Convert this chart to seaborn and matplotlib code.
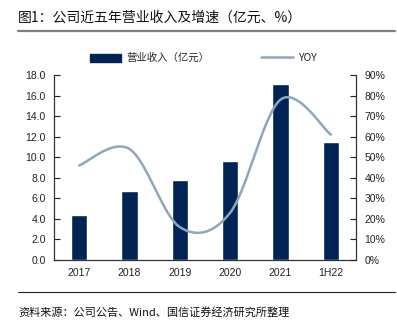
import numpy as np
import pandas as pd
import matplotlib
matplotlib.use("Agg")
import matplotlib.pyplot as plt
import seaborn as sns
from matplotlib.lines import Line2D
from matplotlib.patches import Patch

sns.set_style("white")
plt.rcParams["font.family"] = ["Liberation Sans", "Noto Sans CJK SC", "DejaVu Sans"]

# Data
years = ["2017", "2018", "2019", "2020", "2021", "1H22"]
revenue = [4.4, 6.7, 7.8, 9.6, 17.1, 11.5]          # 营业收入（亿元）
yoy = [46, 54, 16, 23, 78, 61]                       # 同比增速（%）
left_ticks = [0, 2, 4, 6, 8, 10, 12, 14, 16, 18]
right_ticks = [0, 10, 20, 30, 40, 50, 60, 70, 80, 90]

BAR_COLOR = "#022454"
LINE_COLOR = "#8ea6be"
CJK = ["Noto Sans CJK SC", "DejaVu Sans"]

fig = plt.figure(figsize=(3.97, 3.29), dpi=100)
ax = fig.add_axes([54 / 397, 1 - 260 / 329, (356 - 54) / 397, (260 - 75) / 329])

df = pd.DataFrame({"year": years, "revenue": revenue})
sns.barplot(data=df, x="year", y="revenue", color=BAR_COLOR, width=0.32,
            saturation=1, ax=ax)
ax.set_xlim(-0.5, len(years) - 0.5)
ax.set_ylim(0, 18)
ax.set_yticks(left_ticks)
ax.set_yticklabels([f"{t:.1f}" for t in left_ticks])
ax.set_xlabel("")
ax.set_ylabel("")
ax.set_xticks(np.arange(len(years)))
ax.set_xticklabels(years)
ax.set_xticks(np.arange(len(years) - 1) + 0.5, minor=True)
ax.tick_params(axis="x", which="major", length=0, pad=6, labelsize=7.5, colors="#222222")
ax.tick_params(axis="x", which="minor", length=4, direction="in", width=0.8, color="#333333")
ax.tick_params(axis="y", length=4, direction="in", width=0.8, labelsize=7.5,
               colors="#222222", pad=6)
for side in ["top", "right"]:
    ax.spines[side].set_visible(False)
for side in ["left", "bottom"]:
    ax.spines[side].set_color("#333333")
    ax.spines[side].set_linewidth(0.9)

# Growth-rate line on a secondary axis, smoothed with a Catmull-Rom spline
ax2 = ax.twinx()
x = np.arange(len(yoy), dtype=float)
y = np.array(yoy, dtype=float)
px = np.concatenate([[x[0]], x, [x[-1]]])
py = np.concatenate([[y[0]], y, [y[-1]]])
sx, sy = [], []
t = np.linspace(0, 1, 40)
for i in range(1, len(px) - 2):
    p0, p1, p2, p3 = (np.array([px[j], py[j]]) for j in (i - 1, i, i + 1, i + 2))
    c1 = p1 + (p2 - p0) / 6
    c2 = p2 - (p3 - p1) / 6
    seg = ((1 - t) ** 3)[:, None] * p1 + (3 * (1 - t) ** 2 * t)[:, None] * c1 \
        + (3 * (1 - t) * t ** 2)[:, None] * c2 + (t ** 3)[:, None] * p2
    sx.extend(seg[:, 0]); sy.extend(seg[:, 1])
sns.lineplot(x=sx, y=sy, sort=False, color=LINE_COLOR, linewidth=1.8, ax=ax2)
ax2.set_ylim(0, 90)
ax2.set_yticks(right_ticks)
ax2.set_yticklabels([f"{t}%" for t in right_ticks])
ax2.tick_params(axis="y", length=4, direction="in", width=0.8, labelsize=7.5,
                colors="#222222", pad=6)
for side in ["top", "left", "bottom"]:
    ax2.spines[side].set_visible(False)
ax2.spines["right"].set_color("#333333")
ax2.spines["right"].set_linewidth(0.9)

# Legend
handles = [Patch(facecolor=BAR_COLOR, edgecolor=BAR_COLOR),
           Line2D([], [], color=LINE_COLOR, linewidth=1.8)]
leg = fig.legend(handles, ["营业收入（亿元）", "YOY"], loc="center",
                 bbox_to_anchor=(0.512, 1 - 58 / 329), ncol=2, frameon=False,
                 prop={"family": CJK, "size": 7.5}, columnspacing=5.0,
                 handlelength=3.0, handleheight=0.8, handletextpad=0.5)

# Title, rules and source note
fig.text(18 / 397, 1 - 18 / 329, "图1：公司近五年营业收入及增速（亿元、%）",
         fontsize=10, family=CJK, va="center", ha="left", color="#111111")
fig.add_artist(Line2D([18 / 397, 395 / 397], [1 - 31 / 329, 1 - 31 / 329],
                      color="#7f7f7f", linewidth=1.6))
fig.add_artist(Line2D([18 / 397, 395 / 397], [1 - 292 / 329, 1 - 292 / 329],
                      color="#222222", linewidth=0.8))
fig.text(18 / 397, 1 - 312 / 329, "资料来源：公司公告、Wind、国信证券经济研究所整理",
         fontsize=8, family=CJK, va="center", ha="left", color="#111111")

fig.savefig("out.png", dpi=100)
